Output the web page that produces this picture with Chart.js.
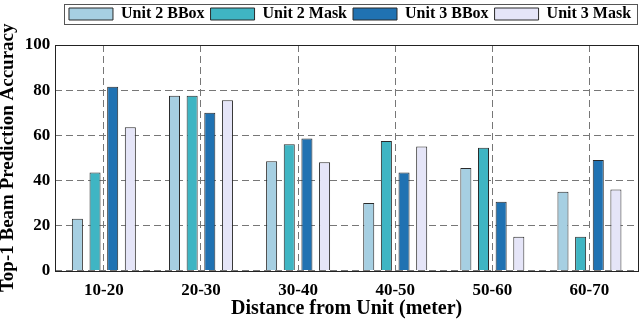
<!DOCTYPE html>
<html>
<head>
<meta charset="utf-8">
<script src="https://cdn.jsdelivr.net/npm/chart.js@4.4.1/dist/chart.umd.min.js"></script>
<style>
  html, body { margin: 0; padding: 0; background: #fff; }
  #wrap { width: 640px; height: 321px; }
</style>
</head>
<body>
<div id="wrap"><canvas id="c" width="640" height="321"></canvas></div>
<script>
// 데이터
const categories = ['10-20', '20-30', '30-40', '40-50', '50-60', '60-70'];
const seriesNames = ['Unit 2 BBox', 'Unit 2 Mask', 'Unit 3 BBox', 'Unit 3 Mask'];
const unit2BBox = [23, 77.5, 48.5, 30, 45.5, 35];
const unit2Mask = [43.5, 77.5, 56, 57.5, 54.5, 15];
const unit3BBox = [81.5, 70, 58.5, 43.5, 30.5, 49];
const unit3Mask = [63.5, 75.5, 48, 55, 15, 36];
const yTicks = [0, 20, 40, 60, 80, 100];

const colors = ['#a6cfe2', '#3fb5c3', '#2072b2', '#e5e5f8'];
const serif = "'Liberation Serif', 'DejaVu Serif', serif";

// 범례: 아래 여백 확보 + 오른쪽으로 이동
const legendTweak = {
  id: 'legendTweak',
  beforeInit(chart) {
    const lg = chart.legend;
    const fit = lg.fit;
    lg.fit = function () {
      fit.bind(lg)();
      this.height += 13;
    };
    const draw = lg.draw;
    lg.draw = function () {
      const c = chart.ctx;
      c.save();
      c.translate(31, 0);
      draw.bind(lg)();
      c.restore();
    };
  }
};

// 범례 테두리 + 플롯 테두리
const framePlugin = {
  id: 'frame',
  afterDraw(chart) {
    const c = chart.ctx;
    const a = chart.chartArea;
    c.save();
    c.strokeStyle = '#222';
    c.lineWidth = 1;
    c.strokeRect(Math.round(a.left) + 0.5, Math.round(a.top) + 0.5,
      Math.round(a.right - a.left), Math.round(a.bottom - a.top));
    c.strokeStyle = '#555';
    c.strokeRect(64.5, 4.5, 573, 20);
    c.restore();
  }
};

new Chart(document.getElementById('c'), {
  type: 'bar',
  plugins: [legendTweak, framePlugin],
  data: {
    labels: categories,
    datasets: [unit2BBox, unit2Mask, unit3BBox, unit3Mask].map((d, i) => ({
      label: seriesNames[i],
      data: d,
      backgroundColor: colors[i],
      borderColor: '#2a2a2a',
      borderWidth: 1,
      categoryPercentage: 0.727,
      barPercentage: 0.625,
    })),
  },
  options: {
    responsive: false,
    animation: false,
    layout: { padding: { left: 0, right: 2, top: 0, bottom: 0 } },
    plugins: {
      legend: {
        display: true,
        position: 'top',
        labels: {
          color: '#000',
          font: { family: serif, size: 16, weight: 'bold' },
          boxWidth: 44,
          boxHeight: 12,
          padding: 6,
        },
      },
      tooltip: { enabled: false },
    },
    scales: {
      x: {
        grid: {
          offset: false,
          color: '#777',
          lineWidth: 1,
          drawTicks: false,
        },
        border: { dash: [7, 4], display: false },
        ticks: {
          color: '#000',
          padding: 10,
          font: { family: serif, size: 17, weight: 'bold' },
        },
        title: {
          display: true,
          text: 'Distance from Unit (meter)',
          color: '#000',
          padding: { top: -14, bottom: 0 },
          font: { family: serif, size: 20, weight: 'bold' },
        },
      },
      y: {
        min: 0,
        max: 100,
        afterBuildTicks(axis) { axis.ticks = yTicks.map(v => ({ value: v })); },
        grid: {
          color: '#777',
          lineWidth: 1,
          drawTicks: false,
        },
        border: { dash: [7, 4], display: false },
        ticks: {
          color: '#000',
          padding: 5,
          font: { family: serif, size: 17, weight: 'bold' },
        },
        title: {
          display: true,
          text: 'Top-1 Beam Prediction Accuracy',
          color: '#000',
          padding: { top: -3, bottom: 0 },
          font: { family: serif, size: 19, weight: 'bold' },
        },
      },
    },
  },
});
</script>
</body>
</html>
